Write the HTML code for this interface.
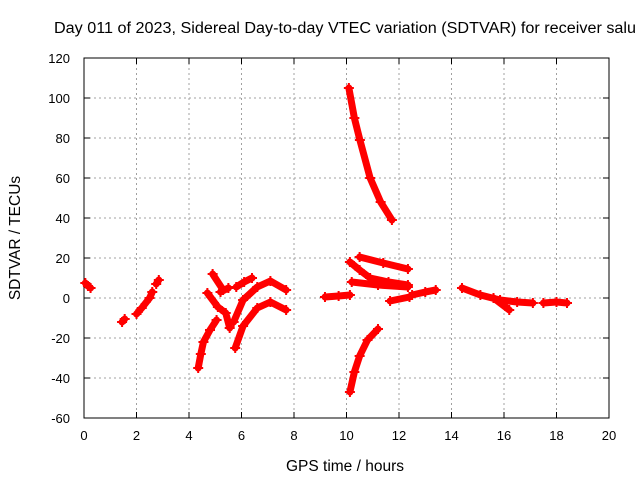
<!DOCTYPE html>
<html><head><meta charset="utf-8"><style>
body{margin:0;background:#fff}
svg{display:block}
text{font-family:"Liberation Sans",sans-serif;font-size:13px;fill:#000}
.big{font-size:15.5px}
</style></head><body>
<svg id="chart" width="640" height="480" viewBox="0 0 640 480">
<text class="big" x="54" y="33" textLength="582" lengthAdjust="spacingAndGlyphs">Day 011 of 2023, Sidereal Day-to-day VTEC variation (SDTVAR) for receiver salu</text>
<g id="grid"></g>
<g id="axes"></g>
<g id="marks"></g>
<text class="big" x="345" y="471" text-anchor="middle">GPS time / hours</text>
<text class="big" transform="translate(20,238) rotate(-90)" text-anchor="middle">SDTVAR / TECUs</text>
</svg>
<script>
const xTicks=[0,2,4,6,8,10,12,14,16,18,20];
const yTicks=[-60,-40,-20,0,20,40,60,80,100,120];
// tracks: each is array of [hours, TECU]
const track1=[[0.05,7.5],[0.15,6],[0.25,5]];
const track2=[[1.45,-12],[1.55,-10.5]];
const track3=[[2.0,-8],[2.2,-5],[2.5,0],[2.6,3]];
const track4=[[2.75,7],[2.85,9]];
const track5=[[4.35,-35],[4.45,-28],[4.55,-22],[4.8,-16],[5.05,-11]];
const track6=[[4.9,12],[5.3,4]];
const track7=[[4.7,2.5],[5.1,-4.5],[5.4,-7.5],[5.55,-15]];
const track8=[[5.2,3],[5.5,5]];
const track9=[[5.8,5.5],[6.1,8],[6.4,10]];
const track10=[[5.7,-12],[6.06,-1],[6.6,5.5],[7.1,8.5],[7.7,4]];
const track11=[[5.76,-25],[6.06,-14],[6.6,-5],[7.1,-2],[7.7,-6]];
const track12=[[10.09,105],[10.3,90],[10.51,79],[10.9,60],[11.3,48],[11.73,39]];
const track13=[[10.13,-47],[10.3,-37],[10.5,-29],[10.8,-21],[11.2,-15.5]];
const track14=[[10.5,20.5],[11.4,17.5],[12.34,14.5]];
const track15=[[10.13,18],[10.5,14],[10.9,10],[11.6,8],[12.34,6.5]];
const track16=[[10.2,8],[11.2,6.5],[12.34,5.5]];
const track17=[[9.18,0.5],[9.7,1],[10.13,1.5]];
const track18=[[11.66,-1.5],[12.4,0.5]];
const track19=[[12.5,1.5],[13.0,3],[13.4,4]];
const track20=[[14.4,5],[15.1,1.5],[15.85,-1],[16.5,-2],[17.1,-2.5]];
const track21=[[15.6,0],[16.2,-6]];
const track22=[[17.5,-2.5],[18.0,-2],[18.4,-2.5]];
const tracks=[track1,track2,track3,track4,track5,track6,track7,track8,track9,track10,track11,track12,track13,track14,track15,track16,track17,track18,track19,track20,track21,track22];

const X0=84,X1=609,Y0=418,Y1=58;
const sx=v=>X0+(v-0)/20*(X1-X0);
const sy=v=>Y0-(v+60)/180*(Y0-Y1);
const NS='http://www.w3.org/2000/svg';
function mk(tag,attrs,parent){const e=document.createElementNS(NS,tag);for(const k in attrs)e.setAttribute(k,attrs[k]);parent.appendChild(e);return e;}
const grid=document.getElementById('grid'),axes=document.getElementById('axes'),marks=document.getElementById('marks');
xTicks.forEach(t=>{
  const x=sx(t);
  if(t>0&&t<20){const g=mk('line',{x1:x,x2:x,y1:Y1,y2:Y0,stroke:'#a0a0a0','stroke-dasharray':'2,3','stroke-width':1},grid);
  
  }
  mk('line',{x1:x,x2:x,y1:Y0,y2:Y0-6,stroke:'#000'},axes);
  mk('line',{x1:x,x2:x,y1:Y1,y2:Y1+6,stroke:'#000'},axes);
  const l=mk('text',{x:x,y:Y0+22,'text-anchor':'middle'},axes);l.textContent=t;
  
  
});
yTicks.forEach(t=>{
  const y=sy(t);
  if(t>-60&&t<120){const g=mk('line',{x1:X0,x2:X1,y1:y,y2:y,stroke:'#a0a0a0','stroke-dasharray':'2,3','stroke-width':1},grid);
  
  }
  mk('line',{x1:X0,x2:X0+6,y1:y,y2:y,stroke:'#000'},axes);
  mk('line',{x1:X1,x2:X1-6,y1:y,y2:y,stroke:'#000'},axes);
  const l=mk('text',{x:X0-14,y:y+5,'text-anchor':'end'},axes);l.textContent=t;
  
  
});
const fr=mk('rect',{x:X0,y:Y1,width:X1-X0,height:Y0-Y1,fill:'none',stroke:'#000','stroke-width':1},axes);


tracks.forEach(tr=>{
  const pl=mk('polyline',{points:tr.map(p=>sx(p[0])+','+sy(p[1])).join(' '),fill:'none',stroke:'#ff0000','stroke-width':7,'stroke-linecap':'round','stroke-linejoin':'round'},marks);
  
  
  tr.forEach(p=>{
    const x=sx(p[0]),y=sy(p[1]);
    const m=mk('path',{d:`M${x-5},${y}H${x+5}M${x},${y-5}V${y+5}`,stroke:'#ff0000','stroke-width':2},marks);
    
    
  });
});
</script>
</body></html>
